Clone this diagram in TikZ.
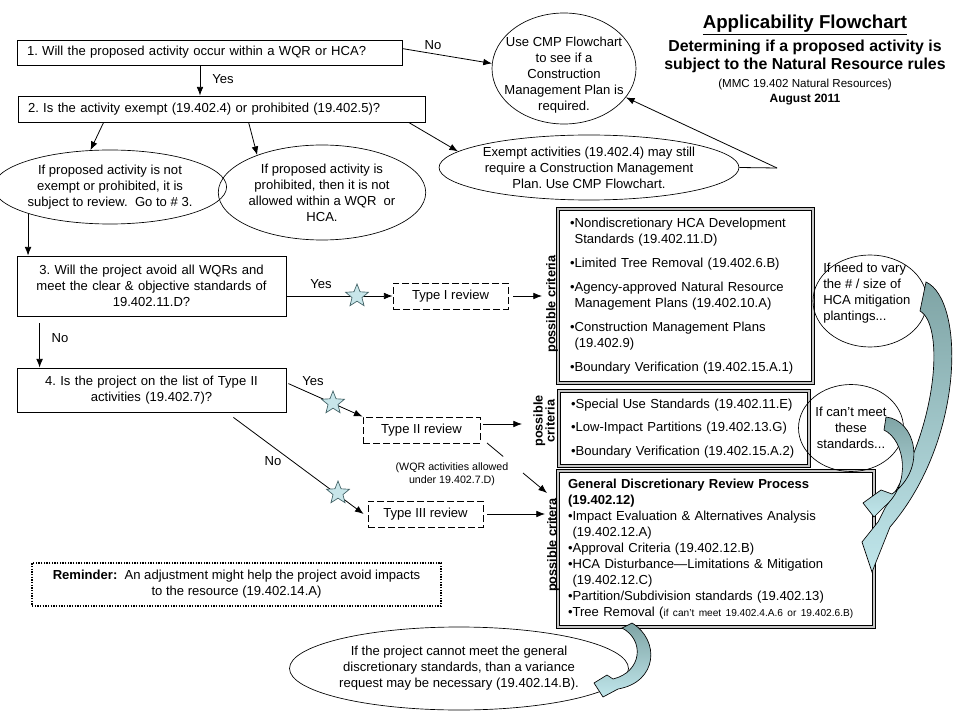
\documentclass[tikz,border=0pt]{standalone}
\usepackage{fontspec}
\setmainfont{Liberation Sans}
\frenchspacing
\usetikzlibrary{shapes.geometric,arrows.meta,calc}
\definecolor{starfill}{HTML}{C8E6EA}
\definecolor{stardraw}{HTML}{3F5F63}
\definecolor{tealdark}{HTML}{7FA4A5}
\definecolor{teallight}{HTML}{C0E6EB}
\begin{document}
\begin{tikzpicture}[x=0.75pt,y=-0.75pt,
  every node/.style={font=\fontsize{9.8}{12}\selectfont},
  qbox/.style={draw, line width=0.6pt, rectangle, inner xsep=7.5pt, inner ysep=0pt},
  oval/.style={draw, ellipse, line width=0.5pt, inner sep=0pt, align=center},
  revbox/.style={draw, dash pattern=on 5pt off 2.5pt, line width=0.6pt, minimum height=19.5pt, inner sep=0pt},
  critbox/.style={draw, double=gray!45, double distance=1.1pt, line width=0.75pt, align=left, inner xsep=9pt, inner ysep=0pt},
  arr/.style={-{Latex[length=6.5pt,width=5pt]}, line width=0.6pt},
  ln/.style={line width=0.6pt},
  lbl/.style={inner sep=0pt},
  starnode/.style={star, star points=5, star point ratio=2.3, minimum size=18pt, inner sep=0pt, draw=stardraw, fill=starfill, line width=0.5pt},
  blockarr/.style={draw=black, line width=0.5pt, top color=tealdark, bottom color=teallight},
  rot/.style={rotate=90, font=\fontsize{9.5}{9}\selectfont\bfseries, align=center, inner sep=0pt}]
\useasboundingbox (0,0) rectangle (960,720);

% title
\node[lbl, font=\fontsize{14}{16}\selectfont\bfseries] (title) at (805,25) {\underline{Applicability Flowchart}};
\node[lbl, align=center, font=\fontsize{11.9}{13.5}\selectfont\bfseries] (subtitle) at (805,56) {Determining if a proposed activity is\\subject to the Natural Resource rules};
\node[lbl, font=\fontsize{8.7}{10}\selectfont] (mmc) at (805,85) {(MMC 19.402 Natural Resources)};
\node[lbl, font=\fontsize{9}{10}\selectfont\bfseries] (date) at (805,100) {August 2011};

% questions
\node[qbox, minimum width=288.75pt, minimum height=18.75pt, text width=273.75pt, align=left] (box1) at (209.5,52.5) {1. Will the proposed activity occur within a WQR or HCA?};
\node[qbox, minimum width=305.25pt, minimum height=19.5pt, text width=290.25pt, align=left] (box2) at (221.5,109) {2. Is the activity exempt (19.402.4) or prohibited (19.402.5)?};
\node[qbox, inner xsep=5.25pt, minimum height=45pt, text width=191.25pt, align=center] (box3) at (151.5,286) {3. Will the project avoid all WQRs and\\meet the clear \& objective standards of\\19.402.11.D?};
\node[qbox, inner xsep=5.25pt, minimum height=33pt, text width=191.25pt, align=center] (box4) at (151.5,390) {4. Is the project on the list of Type II\\activities (19.402.7)?};

% ovals
\node[oval, minimum width=108pt, minimum height=83.25pt] (cmp) at (564,68.5) {};
\node[lbl, align=center] (cmptxt) at (564,75) {Use CMP Flowchart\\to see if a\\Construction\\Management Plan is\\required.};
\node[oval, minimum width=160.5pt, minimum height=55.5pt] (e1) at (110,187) {If proposed activity is not\\exempt or prohibited, it is\\subject to review.\ \ Go to \# 3.};
\node[oval, minimum width=150pt, minimum height=71.25pt] (e2) at (322,192.5) {If proposed activity is\\prohibited, then it is not\\allowed within a WQR\ \ or\\HCA.};
\node[oval, minimum width=223.5pt, minimum height=48.75pt] (e3) at (589,167.5) {Exempt activities (19.402.4) may still\\require a Construction Management\\Plan. Use CMP Flowchart.};
\coordinate (k) at (777,168);

% review boxes
\node[revbox, minimum width=86.25pt] (t1) at (450.5,296) {Type I review};
\node[revbox, minimum width=87.75pt] (t2) at (421.5,430) {Type II review};
\node[revbox, minimum width=86.25pt] (t3) at (425.5,514) {Type III review};

% criteria boxes
\node[critbox, minimum height=130.5pt, text width=173.25pt] (boxA) at (685.5,296) {•Nondiscretionary HCA Development\\\phantom{•}Standards (19.402.11.D)\\[6pt]•Limited Tree Removal (19.402.6.B)\\[6pt]•Agency-approved Natural Resource\\\phantom{•}Management Plans (19.402.10.A)\\[6pt]•Construction Management Plans\\\phantom{•}(19.402.9)\\[6pt]•Boundary Verification (19.402.15.A.1)};
\node[critbox, minimum height=56.25pt, text width=169.5pt] (boxB) at (684,428.5) {•Special Use Standards (19.402.11.E)\\[5.6pt]•Low-Impact Partitions (19.402.13.G)\\[5.6pt]•Boundary Verification (19.402.15.A.2)};
\node[critbox, inner xsep=7.5pt, minimum height=117pt, text width=222pt] (boxC) at (716,549) {\textbf{General Discretionary Review Process}\\\textbf{(19.402.12)}\\•Impact Evaluation \& Alternatives Analysis\\\phantom{•}(19.402.12.A)\\•Approval Criteria (19.402.12.B)\\•HCA Disturbance—Limitations \& Mitigation\\\phantom{•}(19.402.12.C)\\•Partition/Subdivision standards (19.402.13)\\•Tree Removal ({\fontsize{7.6}{9}\selectfont if can't meet 19.402.4.A.6 or 19.402.6.B)}};

\node[rot] (pcA) at (552,304) {possible criteria};
\node[rot] (pcB) at (544,421) {possible\\criteria};
\node[rot] (pcC) at (553,545) {possible critera};

\node[lbl, align=center, font=\fontsize{8}{9.75}\selectfont] (wqr) at (452,474.5) {(WQR activities allowed\\under 19.402.7.D)};

\node[draw, line width=1pt, dash pattern=on 1pt off 1pt, minimum width=306.75pt, minimum height=32.25pt, align=center, inner sep=0pt] (rem) at (236.5,584.5) {\textbf{Reminder:}\ \ An adjustment might help the project avoid impacts\\to the resource (19.402.14.A)};

\node[oval, minimum width=231pt, minimum height=62.25pt] (e4) at (459,668.5) {If the project cannot meet the general\\discretionary standards, than a variance\\request may be necessary (19.402.14.B).};

\node[oval, minimum width=85.5pt, minimum height=69pt] (c1) at (870,301) {};
\node[lbl, align=left, anchor=west] (c1txt) at (823,293.5) {If need to vary\\the \# / size of\\HCA mitigation\\plantings...};
\node[oval, minimum width=78.75pt, minimum height=65.25pt] (c2) at (851,428) {If can't meet\\these\\standards...};

% connectors
\draw[arr] ($(box1.north east)+(0,9)$) -- (cmp.176);
\node[lbl] (no1) at (433,45) {No};
\draw[arr] ($(box1.south)+(-9.5,0)$) -- ($(box2.north)+(-21.5,0)$);
\node[lbl] (yes1) at (223,79) {Yes};
\draw[arr] ($(box2.south west)+(86,0)$) -- (e1.118);
\draw[arr] ($(box2.south west)+(231,0)$) -- (e2.150);
\draw[arr] ($(box2.south west)+(391,0)$) -- (e3.173);
\draw[ln] (e3.east) -- (k);
\draw[arr] (k) -- (cmp);
\draw[arr] (e1.198) -- (e1.198 |- box3.north);

\draw[arr] (box3.east |- t1.west) -- (t1.west);
\node[lbl] (yes3) at (321,284) {Yes};
\node[starnode] (s1) at (357,296) {};
\coordinate (pA) at (542,296);
\draw[arr] ($(t1.east)+(5,0)$) -- (pA);

\draw[arr] ($(box3.south west)+(23,7)$) -- ($(box4.north west)+(23,0)$);
\node[lbl] (no3) at (60,338) {No};

\draw[arr] ($(box4.north east)+(2,16)$) -- (t2.north west);
\node[lbl] (yes4) at (313,381) {Yes};
\node[starnode] (s2) at (333,403) {};
\draw[arr] ($(box4.south east)+(-53,5)$) -- ($(t3.west)+(-4,0)$);
\node[lbl] (no4) at (273,461) {No};
\node[starnode] (s3) at (338,493) {};

\coordinate (pB) at (522,424);
\draw[arr] ($(t2.east)+(3,-6)$) -- (pB);
\coordinate (pC) at (545,514);
\draw[arr] ($(t3.east)+(4,0)$) -- (pC);
\coordinate (q0) at (487,443);
\coordinate (pC2) at (547,493);
\draw[ln] (q0) -- ($(q0)!0.27!(pC2)$);
\draw[arr] ($(q0)!0.6!(pC2)$) -- (pC2);

% block arrows
\shadedraw[blockarr] (926,282) .. controls (965,300) and (965,440) .. (890,527) -- (872,572) -- (862,542) -- (878,522) -- (885,508) .. controls (938,430) and (945,325) .. (920,311) -- cycle;
\shadedraw[blockarr] (886,417) .. controls (915,420) and (928,468) .. (892,494) -- (881,490) -- (863,503) -- (874,517) -- (884,507) .. controls (912,484) and (905,440) .. (884,430) -- cycle;
\shadedraw[blockarr] (632,623) .. controls (660,640) and (658,682) .. (618,689) -- (603,697) -- (594,683) -- (607,675) -- (613,679) .. controls (642,672) and (645,640) .. (622,628) -- cycle;
\end{tikzpicture}
\end{document}
